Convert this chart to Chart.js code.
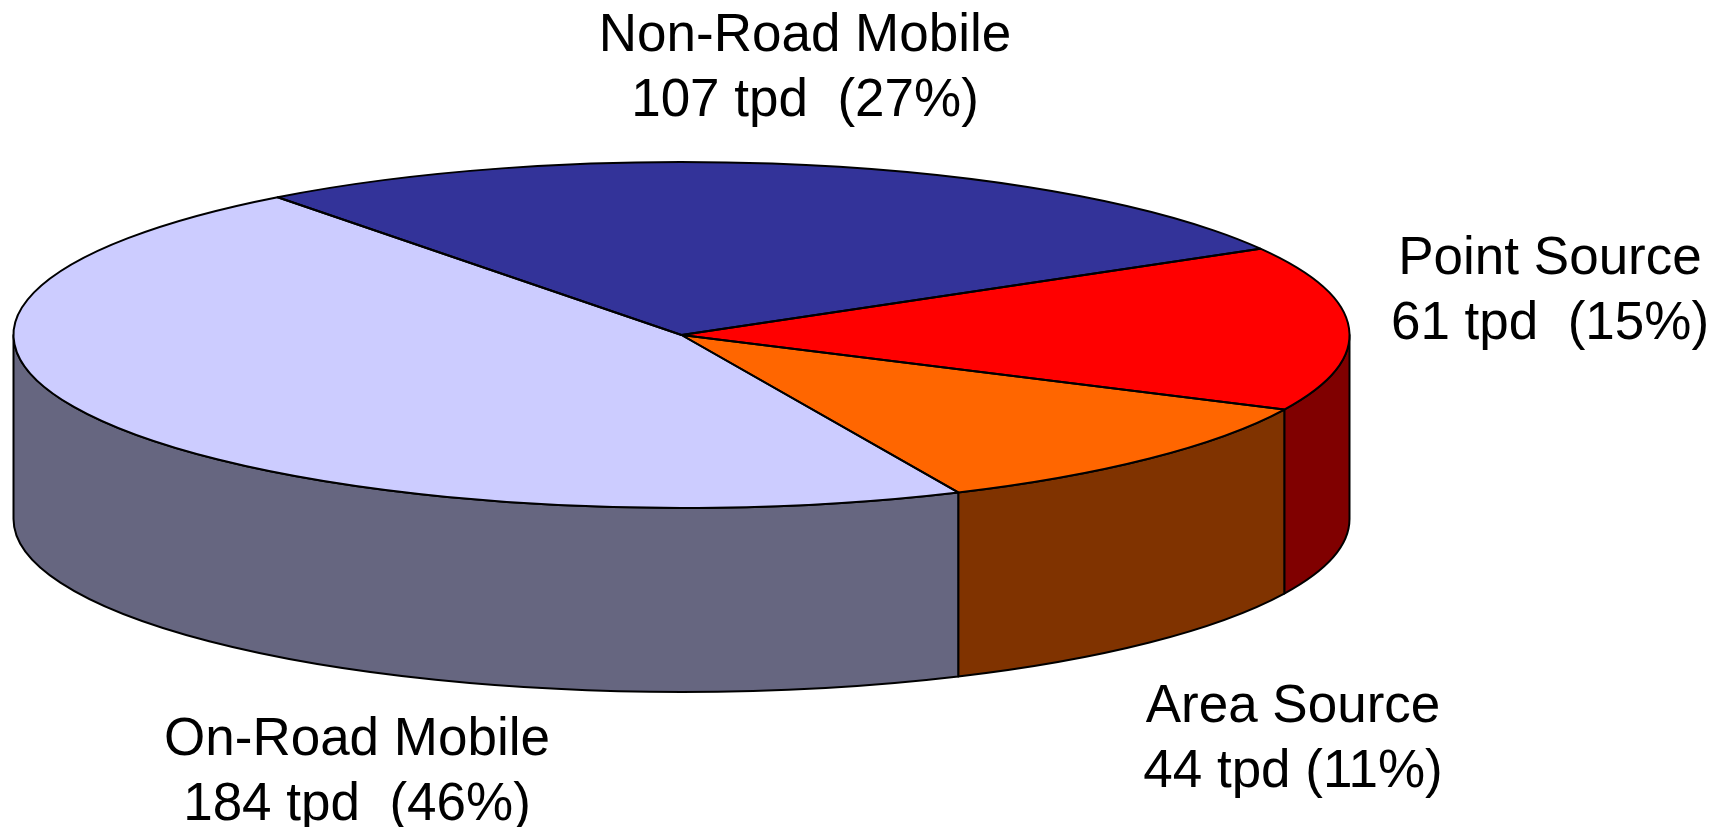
<!DOCTYPE html>
<html>
<head>
<meta charset="utf-8">
<title>Emissions by source</title>
<script src="https://cdn.jsdelivr.net/npm/chart.js@4"></script>
<style>
    html, body { margin: 0; padding: 0; background: #fff; }
    canvas { display: block; }
</style>
</head>
<body>
<canvas id="pieChart" width="1724" height="827"></canvas>
<script>
// DATA
const categories = ['Non-Road Mobile', 'Point Source', 'Area Source', 'On-Road Mobile'];
const tonsPerDay = [107, 61, 44, 184];
const valueLabels = ['107 tpd  (27%)', '61 tpd  (15%)', '44 tpd (11%)', '184 tpd  (46%)'];
const topColors = ['#333399', '#FF0000', '#FF6600', '#CCCCFF'];
const wallColors = ['#1a1a4d', '#800000', '#803300', '#666680'];

// label anchors, same order as categories: [center x, first baseline]
const labelAnchors = [[805, 51], [1550, 274], [1293, 722], [357, 755]];
const lineGap = 65;

// pie geometry
const radius = 668;
const squash = 173 / 668; // top ellipse height / width
const depth = 184;

const pie3d = {
    id: 'pie3d',
    // side wall goes under the top, then squash the canvas so the arcs become an ellipse
    beforeDatasetsDraw(chart) {
        const ctx = chart.ctx;
        const arcs = chart.getDatasetMeta(0).data;
        const cx = arcs[0].x, cy = arcs[0].y;
        const ry = radius * squash;

        ctx.save();
        ctx.lineWidth = 2;
        ctx.strokeStyle = '#000';
        ctx.lineJoin = 'round';
        arcs.forEach((arc, i) => {
            const s = Math.max(arc.startAngle, 0);
            const e = Math.min(arc.endAngle, Math.PI);
            if (s >= e) return;
            ctx.beginPath();
            ctx.ellipse(cx, cy, radius, ry, 0, s, e);
            ctx.ellipse(cx, cy + depth, radius, ry, 0, e, s, true);
            ctx.closePath();
            ctx.fillStyle = wallColors[i];
            ctx.fill();
            ctx.stroke();
        });
        ctx.restore();

        ctx.save();
        ctx.translate(cx, cy);
        ctx.scale(1, squash);
        ctx.translate(-cx, -cy);
    },
    afterDatasetsDraw(chart) {
        const ctx = chart.ctx;
        ctx.restore();

        // outlines stroked here so the line width is not squashed
        const arcs = chart.getDatasetMeta(0).data;
        const cx = arcs[0].x, cy = arcs[0].y;
        ctx.save();
        ctx.lineWidth = 2;
        ctx.strokeStyle = '#000';
        ctx.lineJoin = 'round';
        arcs.forEach(arc => {
            ctx.beginPath();
            ctx.moveTo(cx, cy);
            ctx.ellipse(cx, cy, radius, radius * squash, 0, arc.startAngle, arc.endAngle);
            ctx.closePath();
            ctx.stroke();
        });
        ctx.restore();
    },
    afterDraw(chart) {
        const ctx = chart.ctx;
        ctx.save();
        ctx.fillStyle = '#000';
        ctx.font = '53px "Liberation Sans", Arial, sans-serif';
        ctx.textAlign = 'center';
        ctx.textBaseline = 'alphabetic';
        categories.forEach((name, i) => {
            const [x, y] = labelAnchors[i];
            ctx.fillText(name, x, y);
            ctx.fillText(valueLabels[i], x, y + lineGap);
        });
        ctx.restore();
    }
};

new Chart(document.getElementById('pieChart'), {
    type: 'pie',
    data: {
        labels: categories,
        datasets: [{
            data: tonsPerDay,
            backgroundColor: topColors,
            borderWidth: 0,
            radius: radius
        }]
    },
    options: {
        responsive: false,
        animation: false,
        rotation: -37.2,
        // moves the chart area so the pie center lands at 681,335
        layout: { padding: { right: 361, bottom: 157 } },
        plugins: {
            legend: { display: false },
            tooltip: { enabled: false }
        }
    },
    plugins: [pie3d]
});
</script>
</body>
</html>
